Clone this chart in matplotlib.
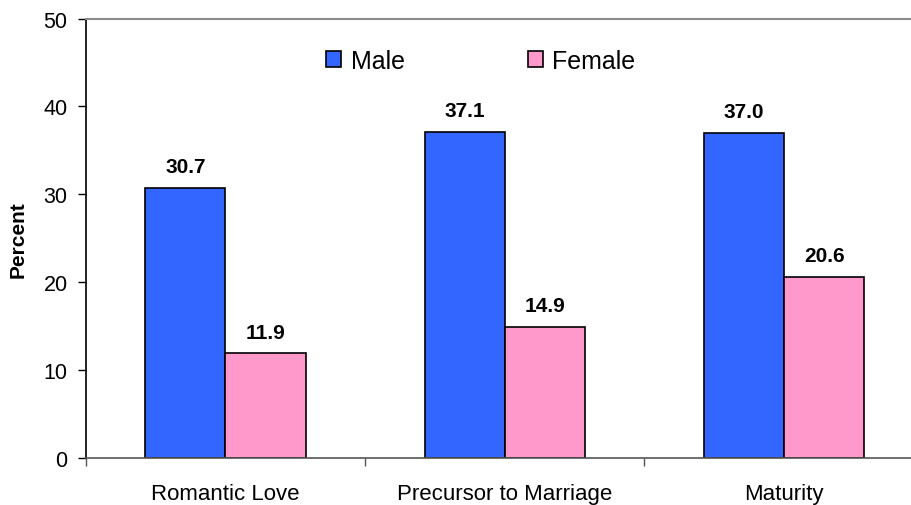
import matplotlib

matplotlib.use("Agg")
import matplotlib.pyplot as plt
import numpy as np
from matplotlib.patches import Patch

categories = ["Romantic Love", "Precursor to Marriage", "Maturity"]
male = [30.7, 37.1, 37.0]
female = [11.9, 14.9, 20.6]
y_ticks = [0, 10, 20, 30, 40, 50]

MALE_COLOR = "#3366FF"
FEMALE_COLOR = "#FF99CC"

plt.rcParams["font.family"] = ["Liberation Sans", "DejaVu Sans"]

W, H = 911, 506
fig = plt.figure(figsize=(W / 100, H / 100), dpi=100)
left, right, top, bottom = 85.7, 85.7 + 838, 19.5, 459
ax = fig.add_axes([left / W, 1 - bottom / H, (right - left) / W, (bottom - top) / H])

x = np.arange(len(categories))
width = 0.287
bars_m = ax.bar(x - width / 2, male, width, color=MALE_COLOR, edgecolor="black", linewidth=1.2, label="Male")
bars_f = ax.bar(x + width / 2, female, width, color=FEMALE_COLOR, edgecolor="black", linewidth=1.2, label="Female")

for bars, values in ((bars_m, male), (bars_f, female)):
    for bar, value in zip(bars, values):
        ax.annotate(
            f"{value:.1f}", (bar.get_x() + bar.get_width() / 2, value),
            xytext=(0, 8.5), textcoords="offset points", ha="center", va="bottom",
            fontsize=15, fontweight="bold",
        )

ax.set_xlim(-0.5, 2.5)
ax.set_ylim(0, 50)
ax.set_yticks(y_ticks)
ax.tick_params(axis="y", labelsize=15.5, length=6, width=1, pad=7)
ax.set_xticks(x)
ax.set_xticklabels(categories, fontsize=16)
ax.set_xticks(np.arange(-0.5, 3, 1), minor=True)
ax.tick_params(axis="x", which="major", length=0, pad=18)
ax.tick_params(axis="x", which="minor", length=6, width=1, color="#555555")
ax.set_ylabel("Percent", fontsize=15, fontweight="bold", labelpad=11.5)

ax.spines["right"].set_visible(False)
ax.spines["top"].set_color("#8c8c8c")
ax.spines["top"].set_linewidth(1.5)
ax.spines["bottom"].set_color("#555555")
ax.spines["bottom"].set_linewidth(1.2)
ax.spines["left"].set_linewidth(1.2)

handles = [
    Patch(facecolor=MALE_COLOR, edgecolor="black", linewidth=1.2),
    Patch(facecolor=FEMALE_COLOR, edgecolor="black", linewidth=1.2),
]
ax.legend(
    handles, ["Male", "Female"], loc="center left", bbox_to_anchor=((326 - left) / (right - left), 1 - (62 - top) / (bottom - top)),
    ncol=2, frameon=False, fontsize=18, handlelength=0.6, handleheight=0.6,
    handletextpad=0.4, columnspacing=4.9, borderpad=0, borderaxespad=0,
)

fig.savefig("out.png", dpi=100)
